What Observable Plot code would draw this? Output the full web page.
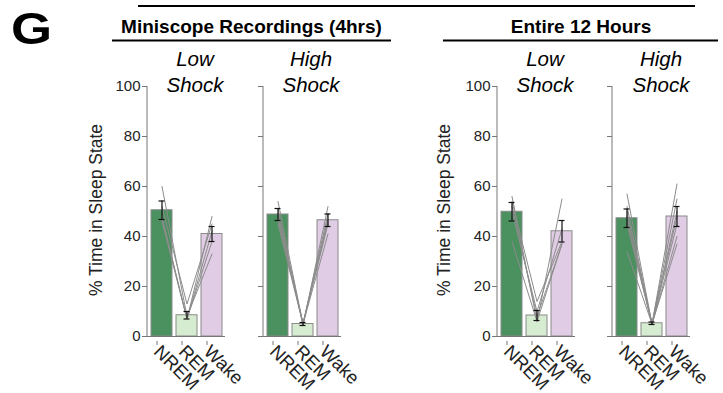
<!DOCTYPE html>
<html><head><meta charset="utf-8">
<script src="https://cdn.jsdelivr.net/npm/d3@7"></script>
<script src="https://cdn.jsdelivr.net/npm/@observablehq/plot@0.6"></script>
<style>
body{margin:0;background:#fff;}
#root{position:relative;width:723px;height:393px;overflow:hidden;font-family:"Liberation Sans",Arial,sans-serif;}
#root svg{position:absolute;}
</style></head><body><div id="root"></div>
<script>
// ---- data ----
const states = ["NREM", "REM", "Wake"];
const stateColors = ["#4b9160", "#d5ecd0", "#e0cde5"];
const groupTitles = ["Miniscope Recordings (4hrs)", "Entire 12 Hours"];
const shockTitles = ["Low", "High"];
const shockWord = "Shock";
const yTicks = [0, 20, 40, 60, 80, 100];
const yLabel = "% Time in Sleep State";

const miniLowMean = [50.5, 8.5, 41.0];
const miniLowSem = [3.7, 1.5, 3.0];
const miniLowMice = [[60, 8, 33], [52, 13, 45], [48, 7, 48], [46, 7, 42], [47, 7, 38]];

const miniHighMean = [48.8, 5.0, 46.5];
const miniHighSem = [2.4, 0.6, 2.5];
const miniHighMice = [[54, 5, 41], [51, 4.5, 52], [49, 5, 47], [47, 5, 49], [45, 5, 45], [47, 5.5, 46]];

const fullLowMean = [49.9, 8.4, 42.1];
const fullLowSem = [3.7, 2.0, 4.3];
const fullLowMice = [[56, 6, 55], [54, 14, 38], [52, 8, 37], [50, 10, 43], [38, 6, 37]];

const fullHighMean = [47.3, 5.3, 48.0];
const fullHighSem = [3.7, 0.5, 4.0];
const fullHighMice = [[57, 5, 50], [52, 5, 61], [50, 5, 48], [48, 5, 45], [46, 5, 55], [45, 5, 40], [34, 5, 37]];

// ---- layout ----
const root = document.getElementById("root");
const ML = 50, MR = 45, MT = 10, MB = 57, H = 317, TOP = 76, RANGE = 78;
const PAD_IN = 0.18, PAD_OUT = 0.12;

const panels = [
  {mean: miniLowMean, sem: miniLowSem, mice: miniLowMice, axisX: 147, labels: true},
  {mean: miniHighMean, sem: miniHighSem, mice: miniHighMice, axisX: 263, labels: false},
  {mean: fullLowMean, sem: fullLowSem, mice: fullLowMice, axisX: 497, labels: true},
  {mean: fullHighMean, sem: fullHighSem, mice: fullHighMice, axisX: 612, labels: false}
];

function axisLine(index, scales, values, dims) {
  return d3.create("svg:line")
    .attr("x1", dims.marginLeft).attr("x2", dims.marginLeft)
    .attr("y1", scales.y(100)).attr("y2", scales.y(0))
    .attr("stroke", "#777").attr("stroke-width", 1).node();
}

for (const p of panels) {
  const bars = states.map((s, i) => ({state: s, mean: p.mean[i], lo: p.mean[i] - p.sem[i], hi: p.mean[i] + p.sem[i]}));
  const mice = p.mice.flatMap((m, j) => m.map((v, i) => ({mouse: j, state: states[i], value: v})));
  const svg = Plot.plot({
    width: ML + RANGE + MR, height: H,
    marginTop: MT, marginBottom: MB, marginLeft: ML, marginRight: MR,
    style: {background: "none", overflow: "visible", fontFamily: "Liberation Sans, Arial, sans-serif", color: "#222"},
    x: {type: "band", domain: states, paddingInner: PAD_IN, paddingOuter: PAD_OUT, label: null},
    y: {domain: [0, 100], label: null},
    color: {domain: states, range: stateColors},
    marks: [
      Plot.barY(bars, {x: "state", y: "mean", fill: "state", stroke: "#8a8a8a", strokeWidth: 1}),
      Plot.line(mice, {x: "state", y: "value", z: "mouse", stroke: "#8c8c8c", strokeWidth: 1}),
      Plot.ruleX(bars, {x: "state", y1: "lo", y2: "hi", stroke: "#111", strokeWidth: 1.2}),
      Plot.tickY(bars, {x: "state", y: "lo", stroke: "#111", strokeWidth: 1.2, insetLeft: 7.5, insetRight: 7.5}),
      Plot.tickY(bars, {x: "state", y: "hi", stroke: "#111", strokeWidth: 1.2, insetLeft: 7.5, insetRight: 7.5}),
      Plot.ruleY([0], {stroke: "#777"}),
      axisLine,
      Plot.axisY({ticks: yTicks, tickSize: 5, tickPadding: 2, fontSize: 15, stroke: "#777",
                  tickFormat: p.labels ? (d => d) : (() => ""), label: null}),
      Plot.axisX({tickSize: 4, tickPadding: 3, tickRotate: 45, fontSize: 18.5, stroke: "#777", label: null, dx: -5, dy: 5})
    ]
  });
  svg.style.left = (p.axisX - ML) + "px";
  svg.style.top = TOP + "px";
  root.appendChild(svg);
}

// ---- headers ----
const hdr = d3.select(root).append("svg")
  .attr("width", 723).attr("height", 393)
  .style("left", "0px").style("top", "0px").style("pointer-events", "none")
  .style("font-family", "Liberation Sans, Arial, sans-serif");

hdr.append("text").attr("transform", "translate(11,44) scale(1.2,1)")
  .attr("font-size", 44).attr("font-weight", "bold").text("G");

const lines = [[138, 695, 6], [112, 391, 40.5], [443, 718, 40.5]];
for (const [x1, x2, y] of lines) {
  hdr.append("line").attr("x1", x1).attr("x2", x2).attr("y1", y).attr("y2", y)
    .attr("stroke", "#000").attr("stroke-width", 2);
}
const groupX = [251.5, 581];
groupTitles.forEach((t, i) => {
  hdr.append("text").attr("x", groupX[i]).attr("y", 33).attr("text-anchor", "middle")
    .attr("font-size", 19).attr("font-weight", "bold").text(t);
});
const shockX = [195, 311, 545, 661];
shockX.forEach((x, i) => {
  hdr.append("text").attr("x", x).attr("y", 66).attr("text-anchor", "middle")
    .attr("font-size", 20.5).attr("font-style", "italic").text(shockTitles[i % 2]);
  hdr.append("text").attr("x", x).attr("y", 92).attr("text-anchor", "middle")
    .attr("font-size", 20.5).attr("font-style", "italic").text(shockWord);
});
[102, 450].forEach(x => {
  hdr.append("text").attr("transform", `translate(${x},210) rotate(-90)`)
    .attr("text-anchor", "middle").attr("font-size", 17.5).attr("fill", "#222").text(yLabel);
});
</script></body></html>
